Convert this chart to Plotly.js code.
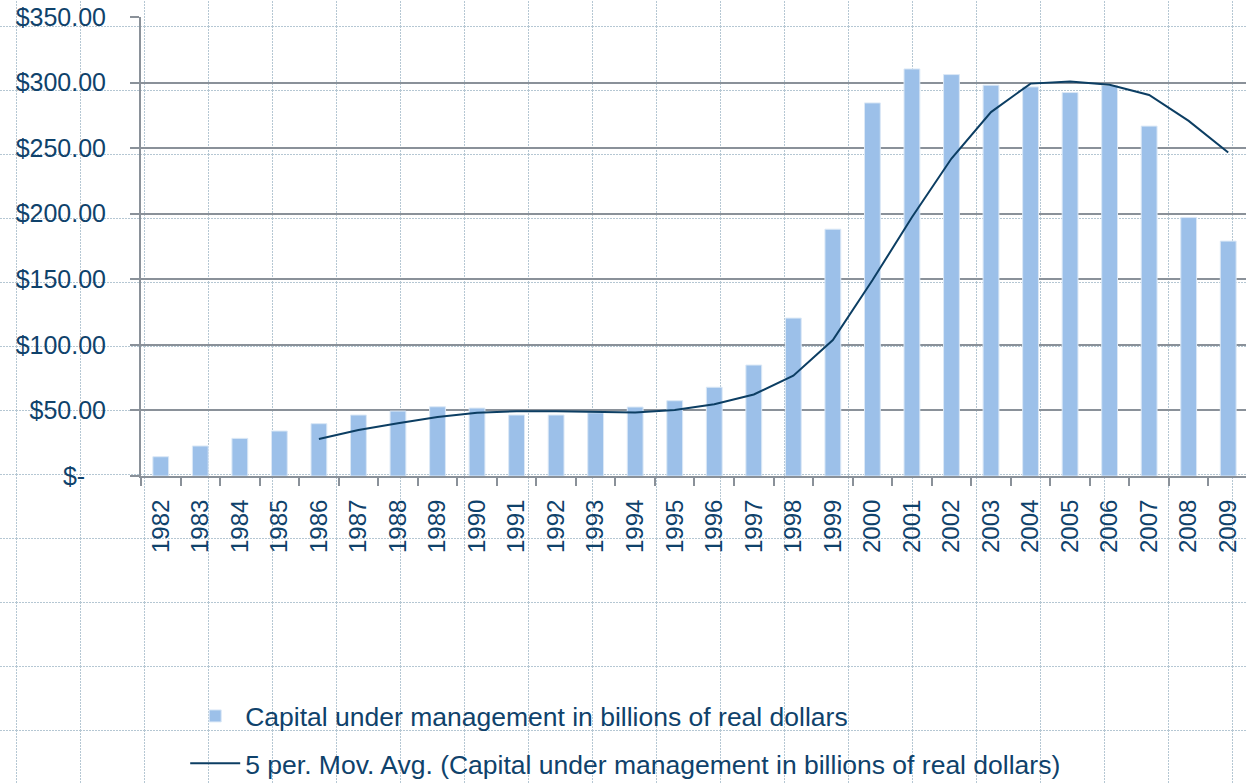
<!DOCTYPE html>
<html>
<head>
<meta charset="utf-8">
<script src="https://cdn.plot.ly/plotly-3.0.1.min.js"></script>
<style>
  html, body { margin: 0; padding: 0; width: 1246px; height: 783px; overflow: hidden; }
  body {
    background-color: #ffffff;
    background-image: url("data:image/svg+xml;utf8,<svg xmlns='http://www.w3.org/2000/svg' width='64' height='64'><line x1='0' y1='0.5' x2='64' y2='0.5' stroke='%23b5c7d3' stroke-width='1' stroke-dasharray='2,1'/><line x1='0.5' y1='0' x2='0.5' y2='64' stroke='%23b5c7d3' stroke-width='1' stroke-dasharray='2,1'/></svg>");
    background-position: 16px 26px;
    background-repeat: repeat;
  }
  #chart { width: 1246px; height: 783px; }
</style>
</head>
<body>
<div id="chart"></div>
<script>
// Data
const years = ["1982","1983","1984","1985","1986","1987","1988","1989","1990","1991",
               "1992","1993","1994","1995","1996","1997","1998","1999","2000","2001",
               "2002","2003","2004","2005","2006","2007","2008","2009"];
const capital = [14.7, 22.9, 28.7, 34.3, 39.9, 46.5, 49.5, 52.8, 51.8, 46.5,
                 46.5, 48.2, 52.6, 57.4, 67.7, 84.6, 120.4, 188.2, 284.5, 310.4,
                 306.1, 298.0, 296.7, 292.4, 297.8, 266.8, 197.2, 179.1];
const movAvg = [null, null, null, null, 28.2, 35.0, 40.3, 45.0, 48.3, 49.4,
                49.3, 49.0, 48.5, 50.3, 54.7, 62.2, 76.5, 103.7, 149.2, 197.3,
                242.1, 277.5, 299.2, 300.9, 298.4, 290.5, 270.8, 246.7];
const yTickVals = [0, 50, 100, 150, 200, 250, 300, 350];
const yTickText = ["$-\u00A0\u00A0\u00A0", "$50.00", "$100.00", "$150.00", "$200.00", "$250.00", "$300.00", "$350.00"];
const barName = "Capital under management in billions of real dollars";
const lineName = "5 per. Mov. Avg. (Capital under management in billions of real dollars)";

const textColor = "#0f426b";
const gridColor = "#8a9199";

const traces = [
  {
    type: "bar",
    x: years,
    y: capital,
    name: barName,
    legendgroup: "a",
    marker: { color: "#9cc0e9", line: { color: "#dbe8f6", width: 1 } }
  },
  {
    type: "scatter",
    mode: "lines",
    x: years,
    y: movAvg,
    name: lineName,
    legendgroup: "b",
    line: { color: "#0c3e63", width: 2 },
    connectgaps: false
  }
];

const layout = {
  width: 1246,
  height: 783,
  margin: { l: 141, r: 0, t: 17, b: 307, autoexpand: false },
  paper_bgcolor: "rgba(0,0,0,0)",
  plot_bgcolor: "rgba(0,0,0,0)",
  font: { family: "Liberation Sans, Arial, sans-serif", color: textColor, size: 24 },
  bargap: 0.6,
  showlegend: true,
  legend: {
    x: 0.04, xanchor: "left",
    y: -0.471, yanchor: "top",
    bgcolor: "rgba(0,0,0,0)",
    font: { size: 26.5, color: textColor, family: "Liberation Sans, Arial, sans-serif" },
    traceorder: "grouped",
    tracegroupgap: 10,
    itemwidth: 50
  },
  xaxis: {
    type: "category",
    range: [-0.5, 27.45],
    tickangle: -90,
    tickson: "boundaries",
    ticks: "outside",
    ticklen: 8,
    tickwidth: 2,
    tickcolor: gridColor,
    showline: true,
    linecolor: gridColor,
    linewidth: 2,
    showgrid: false,
    zeroline: false,
    automargin: false,
    tickfont: { size: 24, color: textColor },
    ticklabelstandoff: 12
  },
  yaxis: {
    range: [0, 350],
    tickmode: "array",
    tickvals: yTickVals,
    ticktext: yTickText,
    ticks: "outside",
    ticklen: 9,
    tickwidth: 2,
    tickcolor: gridColor,
    showline: true,
    linecolor: gridColor,
    linewidth: 2,
    showgrid: true,
    gridcolor: gridColor,
    gridwidth: 2,
    zeroline: false,
    automargin: false,
    tickfont: { size: 25, color: textColor },
    ticklabelstandoff: 19
  }
};

Plotly.newPlot("chart", traces, layout, { displayModeBar: false, staticPlot: true });
</script>
</body>
</html>
